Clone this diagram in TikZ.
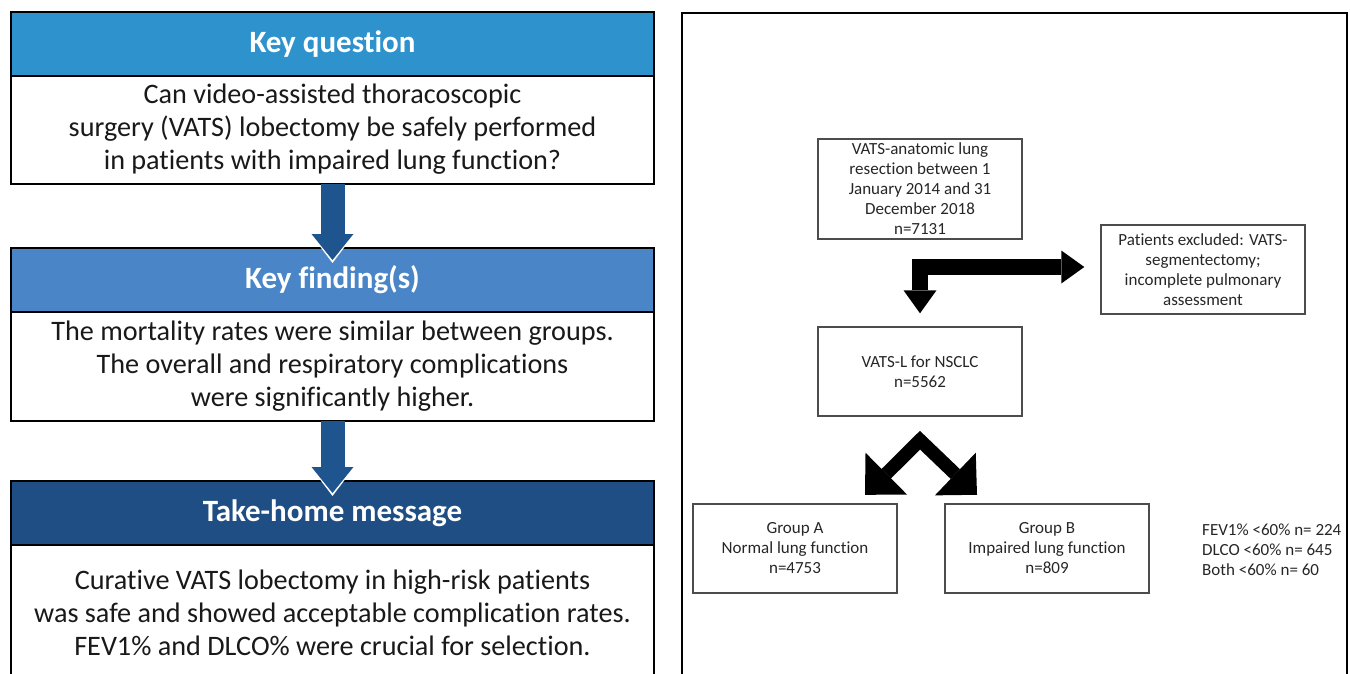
\documentclass[tikz,border=0pt]{standalone}
\usepackage{fontspec}
\setmainfont[Ligatures=NoCommon]{Carlito}
\usetikzlibrary{arrows.meta, positioning, calc}
\definecolor{qblue}{RGB}{46,147,205}
\definecolor{fblue}{RGB}{74,134,199}
\definecolor{tblue}{RGB}{31,78,132}
\definecolor{arrowblue}{RGB}{31,85,143}

\begin{document}
\begin{tikzpicture}[x=1pt, y=-1pt,
  %%── Styles ───────────────────────────────────────────────────────────────
  hdr/.style={
    draw=black, line width=2pt, text=white, inner sep=0pt, outer sep=0pt,
    minimum width=643pt, minimum height=64pt,
    font=\fontsize{31}{36}\selectfont\bfseries
  },
  bodybox/.style={
    draw=black, line width=2pt, fill=white, inner sep=0pt, outer sep=0pt,
    minimum width=643pt, align=center, text=black!90,
    font=\fontsize{28.2}{33}\selectfont
  },
  flowbox/.style={
    draw=black!70, line width=1.4pt, inner sep=0pt,
    minimum width=204pt, minimum height=89pt,
    align=center, text=black!85, font=\fontsize{17}{20}\selectfont
  },
  downarrow/.style={arrowblue, line width=24pt,
    -{Triangle[length=26pt, width=42pt, line width=0pt]}},
  haloarrow/.style={white, line width=24pt,
    -{Triangle[length=31pt, width=47pt, line width=0pt]}},
  bentarrow/.style={black, line width=16pt, line join=miter,
    {Triangle[length=23pt, width=33pt, line width=0pt]}-{Triangle[length=23pt, width=33pt, line width=0pt]}},
  splitarrow/.style={black, line width=13.4pt, line join=miter,
    {Triangle[length=30pt, width=59pt, line width=0pt]}-{Triangle[length=30pt, width=59pt, line width=0pt]}},
]
\useasboundingbox (0,0) rectangle (1350,674);
\clip (0,0) rectangle (1350,674);

%%── Left panel: three header/body blocks ────────────────────────────────
\node[hdr, fill=qblue] (hdq) at (332.5,44) {Key question};
\node[bodybox, minimum height=108pt, text depth=6pt, below=0pt of hdq] (bodyq)
  {Can video-assisted thoracoscopic\\
   surgery (VATS) lobectomy be safely performed\\
   in patients with impaired lung function?};

\node[hdr, fill=fblue] (hdf) at (332.5,280) {Key finding(s)};
\node[bodybox, minimum height=109pt, text depth=5pt, below=0pt of hdf] (bodyf)
  {The mortality rates were similar between groups.\\
   The overall and respiratory complications\\
   were significantly higher.};

\node[hdr, fill=tblue] (hdt) at (332.5,513) {Take-home message};
\node[bodybox, minimum height=136pt, below=0pt of hdt] (bodyt)
  {Curative VATS lobectomy in high-risk patients\\
   was safe and showed acceptable complication rates.\\
   FEV1\% and DLCO\% were crucial for selection.};

%% blue arrows between blocks
\foreach \from/\to in {bodyq/hdf, bodyf/hdt} {
  \draw[haloarrow] (\from.south) -- ($(\to.north)+(0,15)$);
  \draw[downarrow] (\from.south) -- ($(\to.north)+(0,12)$);
}

%%── Right panel: flow chart ─────────────────────────────────────────────
\draw[line width=2pt] (682,690) |- (1347,13) -- (1347,690);

\node[flowbox, minimum height=100pt] (resect) at (920,189)
  {VATS-anatomic lung\\ resection between 1\\ January 2014 and 31\\
   December 2018\\ n=7131};
\node[flowbox] (excl) at (1203,269.5)
  {Patients excluded: VATS-\\ segmentectomy;\\ incomplete pulmonary\\ assessment};
\node[flowbox] (vatsl) at (920,371.5) {VATS-L for NSCLC\\ n=5562};
\node[flowbox] (grpa) at (795,548.5) {Group A\\ Normal lung function\\ n=4753};
\node[flowbox] (grpb) at (1047,548.5) {Group B\\ Impaired lung function\\ n=809};
\node[anchor=west, align=left, inner sep=0pt, text=black!85,
      font=\fontsize{17}{20}\selectfont] (stats) at (1202,549.5)
  {FEV1\% <60\% n= 224\\ DLCO <60\% n= 645\\ Both <60\% n= 60};

%% black block arrows
\coordinate (bend) at (920,267);
\draw[bentarrow] ($(vatsl.north)+(0,-13)$) -- (bend) -- ($(excl.west)+(-16,-2.5)$);

\coordinate (split) at ($(vatsl.south)+(0,23.5)$);
\draw[splitarrow] ($(grpa.north)+(70,-8.5)$) -- (split) -- ($(grpb.north)+(-70,-8.5)$);

\end{tikzpicture}
\end{document}
